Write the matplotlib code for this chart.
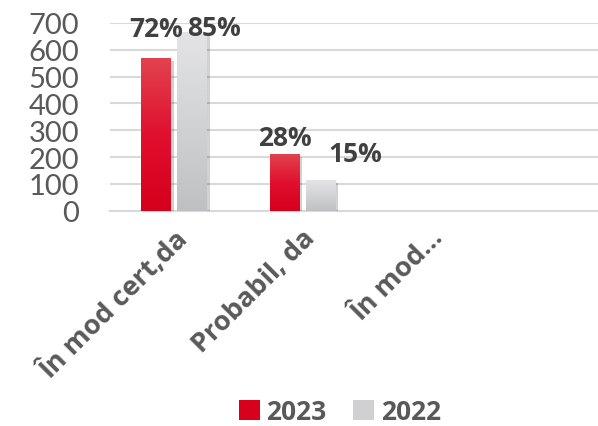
import numpy as np
import matplotlib
matplotlib.use("Agg")
import matplotlib.pyplot as plt
from matplotlib.colors import LinearSegmentedColormap
from matplotlib.patches import Patch
import matplotlib.patheffects as pe

plt.rcParams['font.family'] = ['Lato', 'DejaVu Sans']
bold_family = ['Open Sans', 'DejaVu Sans']

categories = ['În mod cert,da', 'Probabil, da', 'În mod…']
years = ['2023', '2022']
values_2023 = [568, 211, 0]
values_2022 = [667, 115, 0]
pct_2023 = ['72%', '28%', '']
pct_2022 = ['85%', '15%', '']

red_cmap = LinearSegmentedColormap.from_list('red', ['#e2434f', '#e0102e', '#d5001c'])
grey_cmap = LinearSegmentedColormap.from_list('grey', ['#e4e4e6', '#d2d3d5', '#bfc0c2'])

fig = plt.figure(figsize=(5.98, 4.27), dpi=100)
ax = fig.add_axes([0.184, 0.504, 0.83, 0.44])

x = np.arange(len(categories))
width = 0.23
offset = 0.14

def gradient_bars(xpos, heights, cmap):
    bars = ax.bar(xpos, heights, width, color='none', zorder=3)
    grad = np.linspace(0, 1, 256).reshape(-1, 1)
    for b in bars:
        if b.get_height() <= 0:
            continue
        b.set_path_effects([pe.SimplePatchShadow(offset=(2, -2), shadow_rgbFace='#000000', alpha=0.18)])
        b.set_facecolor('#ffffff')
        x0, w, h = b.get_x(), b.get_width(), b.get_height()
        # row 0 of grad (light end) sits at the top of the bar
        im = ax.imshow(grad, cmap=cmap, aspect='auto', extent=(x0, x0 + w, 0, h),
                       origin='upper', zorder=4)
        im.set_clip_path(b)
    return bars

bars23 = gradient_bars(x - offset, values_2023, red_cmap)
bars22 = gradient_bars(x + offset, values_2022, grey_cmap)

# percentage labels above the bars, nudged so they do not collide
label_offsets_23 = [(0, 12), (0, 2)]
label_offsets_22 = [(16, -7), (25, 9)]
for bars, labels, offsets in [(bars23, pct_2023, label_offsets_23),
                              (bars22, pct_2022, label_offsets_22)]:
    for b, txt, off in zip(bars, labels, offsets):
        ax.annotate(txt, (b.get_x() + b.get_width() / 2, b.get_height()), xytext=off,
                    textcoords='offset points', ha='center', va='bottom',
                    fontsize=19, fontweight='bold', family=bold_family,
                    color='#404040', zorder=6)

ax.set_ylim(0, 700)
ax.set_yticks(range(0, 701, 100))
ax.set_xlim(-0.5, 3.37)
ax.set_xticks(x)
ax.set_xticklabels(categories, rotation=45, ha='right', va='top', rotation_mode='anchor',
                   fontsize=19.5, fontweight='bold', family=bold_family, color='#595959')
ax.tick_params(axis='y', labelsize=21, labelcolor='#595959', length=0, pad=22)
ax.tick_params(axis='x', length=0, pad=10)

ax.grid(axis='y', color='#d9d9d9', linewidth=1.5, zorder=0)
ax.set_axisbelow(True)
for s in ['top', 'right', 'left']:
    ax.spines[s].set_visible(False)
ax.spines['bottom'].set_color('#d9d9d9')
ax.spines['bottom'].set_linewidth(1.5)

handles = [Patch(facecolor='#d9001b', label=years[0]),
           Patch(facecolor='#d0d0d2', label=years[1])]
fig.legend(handles=handles, loc='center', bbox_to_anchor=(0.568, 0.033), ncol=2, frameon=False,
           prop={'size': 19, 'weight': 'bold', 'family': bold_family}, labelcolor='#595959',
           handlelength=0.8, handleheight=0.8, handletextpad=0.25, columnspacing=1.0)

fig.savefig('out.png', dpi=100)
